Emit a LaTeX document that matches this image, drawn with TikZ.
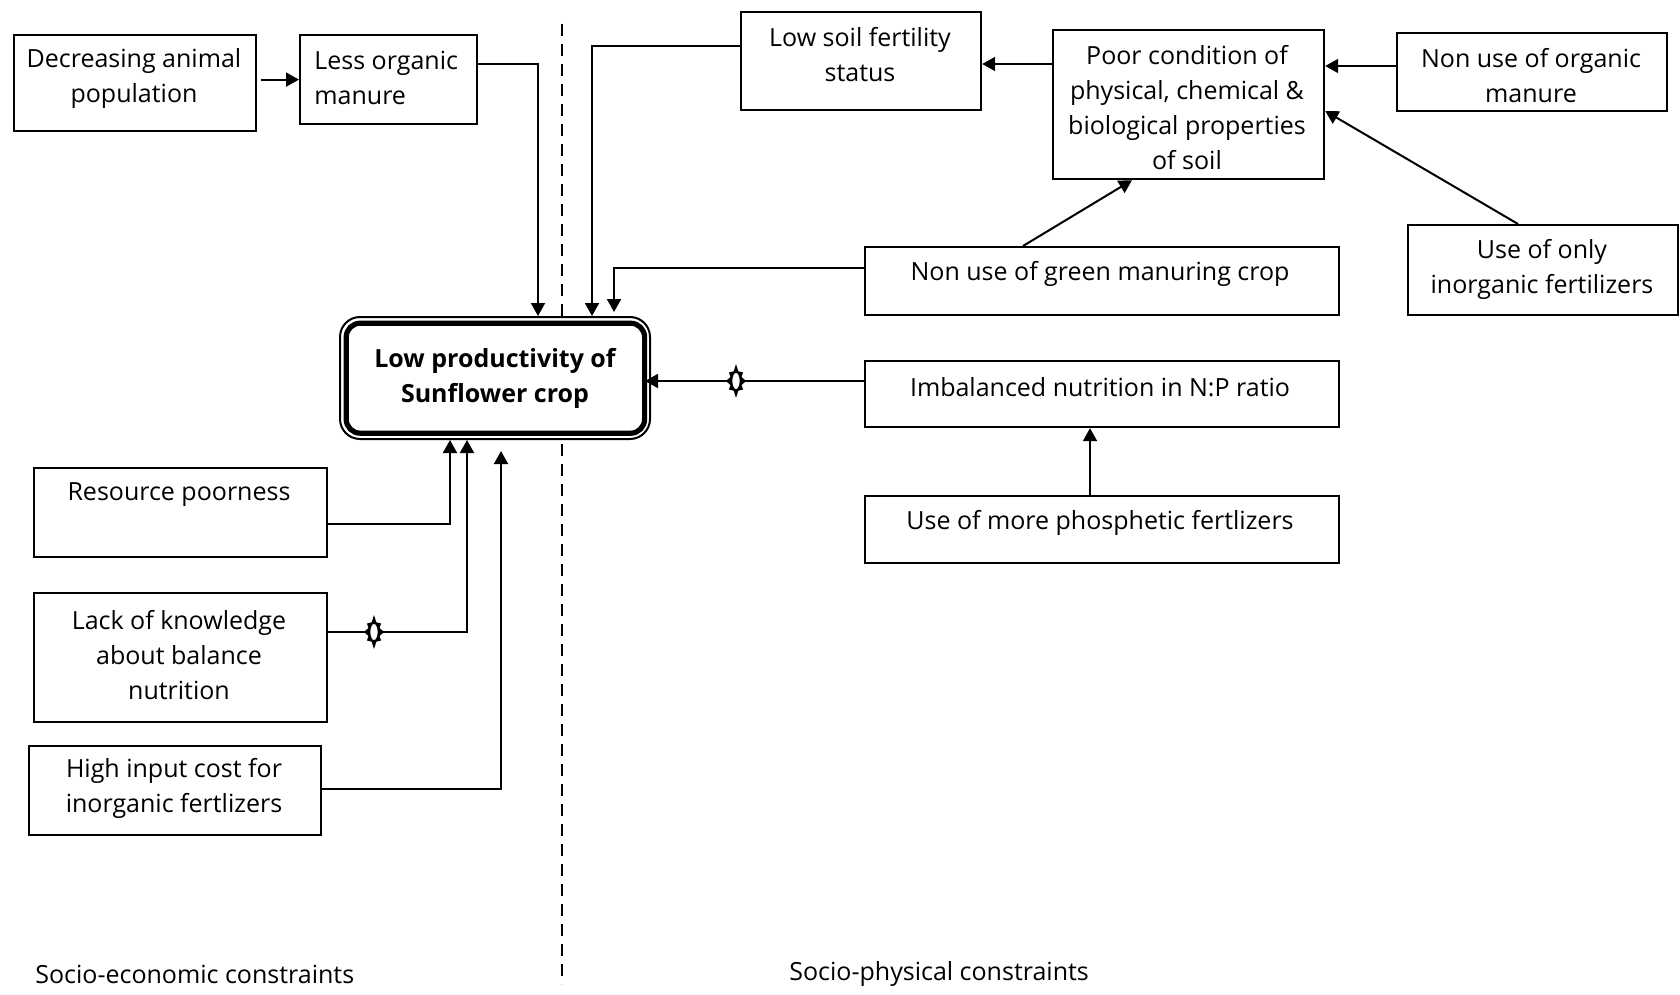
\documentclass[tikz,border=0pt]{standalone}
\usepackage{fontspec}
\setmainfont{Open Sans}
\usetikzlibrary{arrows.meta}
% one unit = one pixel of a 1680 x 995 canvas, y pointing down
\newcommand\mkbox[5]{%
  \node[box, anchor=north west,
        minimum width={(#4-#2)*0.5pt}, minimum height={(#5-#3)*0.5pt}]
        (#1) at (#2,#3) {};}
\newcommand\sunmark[2]{%
  \begin{scope}[shift={(#1,#2)}]
    \fill ({10*cos(0)},{17*sin(0)})
      \foreach \a in {0,45,...,315}{
        -- ({10*cos(\a)},{(\a==90||\a==270 ? 17 : 12)*sin(\a)})
        -- ({6*cos(\a+22.5)},{10.5*sin(\a+22.5)})} -- cycle;
    \draw[line width=0.8pt, fill=white] (0,0) ellipse [x radius=4.5, y radius=9];
  \end{scope}}
\begin{document}
\begin{tikzpicture}[x=0.5pt,y=-0.5pt,
  box/.style={draw, line width=1.1pt, rectangle, inner sep=0pt},
  txt/.style={align=center, inner sep=0pt, font=\fontsize{12.5}{17.5}\selectfont},
  conn/.style={line width=1pt, -{Triangle[length=6.5pt,width=7pt]}},
  plain/.style={line width=1pt}]
\useasboundingbox (0,0) rectangle (1680,995);

% reference lines for connector routing
\coordinate (y46) at (0,46);   \coordinate (y64) at (0,64);
\coordinate (y66) at (0,66);   \coordinate (y111) at (0,111);
\coordinate (y268) at (0,268); \coordinate (y381) at (0,381);
\coordinate (y524) at (0,524); \coordinate (y632) at (0,632);
\coordinate (y789) at (0,789);
\coordinate (x450) at (450,0); \coordinate (x467) at (467,0);
\coordinate (x501) at (501,0); \coordinate (x538) at (538,0);
\coordinate (x592) at (592,0); \coordinate (x614) at (614,0);
\coordinate (x1023) at (1023,0); \coordinate (x1090) at (1090,0);
\coordinate (x1132) at (1132,0); \coordinate (x1518) at (1518,0);

% divider between the two groups of constraints
\draw[line width=0.8pt, dash pattern=on 6pt off 4pt] (562,24) -- (562,984);

% boxes
\mkbox{dap}{13}{34}{255}{130}
\mkbox{lom}{299}{34}{476}{123}
\mkbox{lsf}{740}{11}{980}{109}
\mkbox{pcs}{1052}{29}{1323}{178}
\mkbox{nuo}{1396}{32}{1666}{110}
\mkbox{uoi}{1407}{224}{1677}{314}
\mkbox{gmc}{864}{246}{1338}{314}
\mkbox{imb}{864}{360}{1338}{426}
\mkbox{pho}{864}{495}{1338}{562}
\mkbox{rp}{33}{467}{326}{556}
\mkbox{lk}{33}{592}{326}{721}
\mkbox{hic}{28}{745}{320}{834}

% box texts
\node[txt] (dap-t) at (134,79) {Decreasing animal\\population};
\node[txt, anchor=west, align=left] (lom-t) at (314,78) {Less organic\\manure};
\node[txt] (lsf-t) at (860,55) {Low soil fertility\\status};
\node[txt] (pcs-t) at (1187,108) {Poor condition of\\physical, chemical \&\\biological properties\\of soil};
\node[txt] (nuo-t) at (1531,76) {Non use of organic\\manure};
\node[txt] (uoi-t) at (1542,269) {Use of only\\inorganic fertilizers};
\node[txt] (gmc-t) at (1100,274) {Non use of green manuring crop};
\node[txt] (imb-t) at (1100,387) {Imbalanced nutrition in N:P ratio};
\node[txt] (pho-t) at (1100,523) {Use of more phosphetic fertlizers};
\node[txt] (rp-t) at (179,495) {Resource poorness};
\node[txt] (lk-t) at (179,655) {Lack of knowledge\\about balance\\nutrition};
\node[txt] (hic-t) at (174,788) {High input cost for\\inorganic fertlizers};

% central problem, covering the divider
\node[draw, fill=white, line width=1pt, rounded corners=10pt, inner sep=0pt,
      minimum width=155pt, minimum height=61pt,
      txt, font=\fontsize{12.5}{17.5}\selectfont\bfseries] (core) at (495,378)
      {Low productivity of\\Sunflower crop};
\draw[line width=2.6pt, rounded corners=7pt]
  ([xshift=3.6pt,yshift=-3.6pt]core.north west) rectangle
  ([xshift=-3.2pt,yshift=3.4pt]core.south east);

% group labels
\node[txt, anchor=west] (lab-se) at (35,974) {Socio-economic constraints};
\node[txt, anchor=west] (lab-sp) at (789,974) {Socio-physical constraints};

% connectors
\draw[conn, shorten <=2pt] (dap.east |- lom.west) -- (lom.west);
\draw[conn] (lom.east |- y64) -| (core.north -| x538);
\draw[conn] (lsf.west |- y46) -| (core.north -| x592);
\draw[conn, shorten >=2pt] (gmc.west |- y268) -| (core.north -| x614);
\draw[conn] (pcs.west |- y64) -- (lsf.east |- y64);
\draw[conn] (nuo.west |- y66) -- (pcs.east |- y66);
\draw[conn] (gmc.north -| x1023) -- (pcs.south -| x1132);
\draw[conn] (uoi.north -| x1518) -- (pcs.east |- y111);
\draw[conn, shorten >=-3pt] (imb.west |- y381) -- (core.east |- y381);
\draw[conn] (pho.north -| x1090) -- (imb.south -| x1090);
\draw[conn] (rp.east |- y524) -| (core.south -| x450);
\draw[conn] (lk.east |- y632) -| (core.south -| x467);
\draw[conn, shorten >=5.5pt] (hic.east |- y789) -| (core.south -| x501);

% markers on two of the links
\sunmark{736}{381}
\sunmark{374}{632}
\end{tikzpicture}
\end{document}
